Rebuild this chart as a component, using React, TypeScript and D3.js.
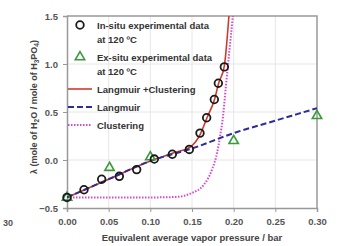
import React, { useEffect, useRef } from "react";
import * as d3 from "d3";

// tick values
const xTicks = [0, 0.05, 0.1, 0.15, 0.2, 0.25, 0.3];
const yTicks = [-0.5, 0, 0.5, 1.0, 1.5];

// in-situ experimental data (circles)
const inSituP = [0, 0.0204, 0.0416, 0.0628, 0.0836, 0.1048, 0.1264, 0.1468, 0.1596, 0.1676, 0.1768, 0.1816, 0.1888];
const inSituL = [-0.39, -0.31, -0.2, -0.17, -0.1, 0.01, 0.06, 0.11, 0.28, 0.44, 0.63, 0.8, 0.97];

// ex-situ experimental data (triangles)
const exSituP = [0, 0.051, 0.1, 0.2, 0.3];
const exSituL = [-0.39, -0.08, 0.03, 0.2, 0.46];

// model curves
const langP = [0, 0.05, 0.1, 0.15, 0.2, 0.25, 0.3];
const langL = [-0.39, -0.2, -0.01, 0.12, 0.28, 0.41, 0.54];

const combP = [0, 0.05, 0.1, 0.13, 0.147, 0.16, 0.168, 0.177, 0.182, 0.1888, 0.1943, 0.196];
const combL = [-0.39, -0.2, -0.01, 0.08, 0.13, 0.27, 0.44, 0.63, 0.8, 0.98, 1.5, 1.7];

const clusP = [0, 0.1, 0.13, 0.148, 0.164, 0.174, 0.18, 0.1836, 0.187, 0.191, 0.195, 0.199, 0.201];
const clusL = [-0.39, -0.39, -0.385, -0.35, -0.26, -0.1, 0.07, 0.24, 0.44, 0.8, 1.15, 1.5, 1.7];

const legendItems = [
  { kind: "circle", lines: ["In-situ experimental data", "at 120 \u00baC"] },
  { kind: "triangle", lines: ["Ex-situ experimental data", "at 120 \u00baC"] },
  { kind: "red", lines: ["Langmuir +Clustering"] },
  { kind: "blue", lines: ["Langmuir"] },
  { kind: "magenta", lines: ["Clustering"] },
];

const RED = "#cf3b2b";
const BLUE = "#2c2c9c";
const MAGENTA = "#d448d4";
const GREEN = "#3a9a3a";
const FONT = "'Liberation Sans', Arial, sans-serif";

function Chart() {
  const ref = useRef<SVGSVGElement>(null);

  useEffect(() => {
    const svg = d3.select(ref.current);
    svg.selectAll("*").remove();

    const left = 67, right = 317, top = 16, bottom = 208;
    const x = d3.scaleLinear().domain([0, 0.3]).range([left, right]);
    const y = d3.scaleLinear().domain([-0.5, 1.5]).range([bottom, top]);

    svg
      .append("defs")
      .append("clipPath")
      .attr("id", "plotclip")
      .append("rect")
      .attr("x", left)
      .attr("y", top)
      .attr("width", right - left)
      .attr("height", bottom - top);

    // grid
    const grid = svg.append("g");
    grid
      .selectAll("line.gx")
      .data(xTicks.slice(1, -1))
      .enter()
      .append("line")
      .attr("x1", (d) => x(d))
      .attr("x2", (d) => x(d))
      .attr("y1", top)
      .attr("y2", bottom)
      .attr("stroke", "#e6e6e6")
      .attr("stroke-width", 1);
    grid
      .selectAll("line.gy")
      .data(yTicks.slice(1, -1))
      .enter()
      .append("line")
      .attr("x1", left)
      .attr("x2", right)
      .attr("y1", (d) => y(d))
      .attr("y2", (d) => y(d))
      .attr("stroke", "#e6e6e6")
      .attr("stroke-width", 1);

    // axes
    const xAxis = svg
      .append("g")
      .attr("transform", `translate(0,${bottom})`)
      .call(d3.axisBottom(x).tickValues(xTicks).tickFormat(d3.format(".2f")).tickSize(4).tickPadding(6));
    const yAxis = svg
      .append("g")
      .attr("transform", `translate(${left},0)`)
      .call(d3.axisLeft(y).tickValues(yTicks).tickFormat(d3.format(".1f")).tickSize(4).tickPadding(5));
    [xAxis, yAxis].forEach((a) => {
      a.select(".domain").attr("stroke", "#999").attr("stroke-width", 1.5);
      a.selectAll(".tick line").attr("stroke", "#999").attr("stroke-width", 1);
      a.selectAll(".tick text")
        .attr("fill", "#555")
        .attr("font-family", FONT)
        .attr("font-weight", "bold")
        .attr("font-size", 9.5);
    });

    // frame top / right
    svg
      .append("path")
      .attr("d", `M${left},${top}H${right}V${bottom}`)
      .attr("fill", "none")
      .attr("stroke", "#999")
      .attr("stroke-width", 1.5);

    const plot = svg.append("g").attr("clip-path", "url(#plotclip)");

    const lang = langP.map((p, i) => [x(p), y(langL[i])] as [number, number]);
    const comb = combP.map((p, i) => [x(p), y(combL[i])] as [number, number]);
    const clus = clusP.map((p, i) => [x(p), y(clusL[i])] as [number, number]);
    const path = d3.line().curve(d3.curveMonotoneX);

    plot
      .append("path")
      .attr("d", path(clus))
      .attr("fill", "none")
      .attr("stroke", MAGENTA)
      .attr("stroke-width", 2)
      .attr("stroke-dasharray", "1.5,1.5");
    plot
      .append("path")
      .attr("d", path(comb))
      .attr("fill", "none")
      .attr("stroke", RED)
      .attr("stroke-width", 1.6);
    plot
      .append("path")
      .attr("d", path(lang))
      .attr("fill", "none")
      .attr("stroke", BLUE)
      .attr("stroke-width", 2)
      .attr("stroke-dasharray", "6,3");

    const marks = svg.append("g");
    const tri = d3.symbol().type(d3.symbolTriangle).size(38);
    marks
      .selectAll("path.tri")
      .data(exSituP)
      .enter()
      .append("path")
      .attr("d", tri)
      .attr("transform", (d, i) => `translate(${x(d)},${y(exSituL[i])})`)
      .attr("fill", "none")
      .attr("stroke", GREEN)
      .attr("stroke-width", 1.6);

    marks
      .selectAll("circle.insitu")
      .data(inSituP)
      .enter()
      .append("circle")
      .attr("cx", (d) => x(d))
      .attr("cy", (d, i) => y(inSituL[i]))
      .attr("r", 3.8)
      .attr("fill", "none")
      .attr("stroke", "#1a1a1a")
      .attr("stroke-width", 1.8);

    // legend
    const lg = svg.append("g");
    let ly = 25;
    legendItems.forEach((item) => {
      const mx = 80;
      if (item.kind === "circle") {
        lg.append("circle").attr("cx", mx).attr("cy", ly).attr("r", 3.8).attr("fill", "none").attr("stroke", "#1a1a1a").attr("stroke-width", 1.8);
      } else if (item.kind === "triangle") {
        lg.append("path").attr("d", tri).attr("transform", `translate(${mx},${ly})`).attr("fill", "none").attr("stroke", GREEN).attr("stroke-width", 1.6);
      } else {
        const color = item.kind === "red" ? RED : item.kind === "blue" ? BLUE : MAGENTA;
        lg.append("line")
          .attr("x1", 68)
          .attr("x2", 92)
          .attr("y1", ly)
          .attr("y2", ly)
          .attr("stroke", color)
          .attr("stroke-width", item.kind === "red" ? 1.6 : 2)
          .attr("stroke-dasharray", item.kind === "blue" ? "6,3" : item.kind === "magenta" ? "1.5,1.5" : null);
      }
      item.lines.forEach((t, j) => {
        lg.append("text")
          .attr("x", 97)
          .attr("y", ly + 3.5 + j * 14)
          .attr("font-family", FONT)
          .attr("font-weight", "bold")
          .attr("font-size", 9.5)
          .attr("fill", "#333")
          .text(t);
      });
      ly += item.lines.length > 1 ? 32 : 18;
    });

    // axis titles
    svg
      .append("text")
      .attr("x", 192)
      .attr("y", 241)
      .attr("text-anchor", "middle")
      .attr("font-family", FONT)
      .attr("font-weight", "bold")
      .attr("font-size", 9.5)
      .attr("fill", "#444")
      .text("Equivalent average vapor pressure / bar");

    const yt = svg
      .append("text")
      .attr("transform", "translate(37,107) rotate(-90)")
      .attr("text-anchor", "middle")
      .attr("font-family", FONT)
      .attr("font-weight", "bold")
      .attr("font-size", 9)
      .attr("fill", "#444");
    yt.append("tspan").text("\u03bb (mole of H");
    yt.append("tspan").attr("font-size", 6.5).attr("dy", 2).text("2");
    yt.append("tspan").attr("dy", -2).text("O / mole of H");
    yt.append("tspan").attr("font-size", 6.5).attr("dy", 2).text("3");
    yt.append("tspan").attr("dy", -2).text("PO");
    yt.append("tspan").attr("font-size", 6.5).attr("dy", 2).text("4");
    yt.append("tspan").attr("dy", -2).text(")");

    svg
      .append("text")
      .attr("x", 3)
      .attr("y", 226)
      .attr("font-family", FONT)
      .attr("font-weight", "bold")
      .attr("font-size", 9)
      .attr("fill", "#555")
      .text("30");
  }, []);

  return (
    <svg
      ref={ref}
      width={337}
      height={246}
      style={{ position: "absolute", left: 0, top: 0, background: "#fff" }}
    />
  );
}

export default function App() {
  return <Chart />;
}
